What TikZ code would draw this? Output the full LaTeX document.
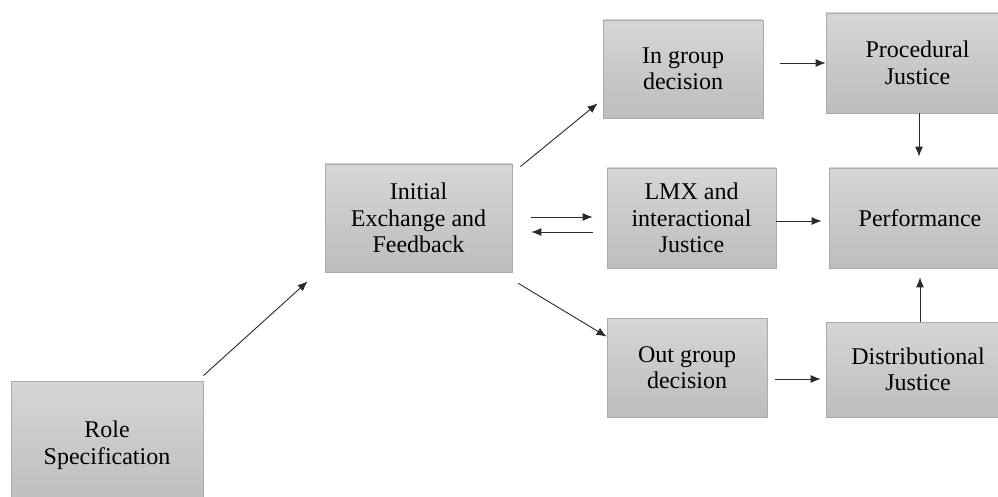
\documentclass[tikz,border=0pt]{standalone}
\usepackage{fontspec}
\setmainfont{Liberation Serif}
\usetikzlibrary{arrows.meta}
\definecolor{boxtop}{HTML}{D6D6D6}
\definecolor{boxbot}{HTML}{BDBDBD}
\definecolor{boxline}{HTML}{ABABAB}
\definecolor{arrowc}{HTML}{2A2A2A}
\tikzset{
  box/.style={rectangle, draw=boxline, line width=0.8pt, top color=boxtop, bottom color=boxbot,
    inner sep=0pt, align=center, font=\fontsize{24}{26.5}\selectfont, text=black},
  conn/.style={draw=arrowc, line width=0.9pt, -{Latex[length=10pt,width=8pt]}}
}
\begin{document}
\begin{tikzpicture}[x=1pt,y=-1pt]
\useasboundingbox (0,0) rectangle (998,497);
\clip (0,0) rectangle (998,497);
\fill[white] (0,0) rectangle (998,497);
\node[box, minimum width=192pt, minimum height=128pt] (role) at (107,445) {Role\\Specification};
\node[box, minimum width=187pt, minimum height=108pt] (init) at (418.5,218) {Initial\\Exchange and\\Feedback};
\node[box, minimum width=160pt, minimum height=98pt] (ingrp) at (683,69) {In group\\decision};
\node[box, minimum width=169pt, minimum height=100pt] (lmx) at (691.5,218) {LMX and\\interactional\\Justice};
\node[box, minimum width=160pt, minimum height=99pt] (outgrp) at (687,367.5) {Out group\\decision};
\node[box, minimum width=183pt, minimum height=100pt] (proc) at (917.5,63) {Procedural\\Justice};
\node[box, minimum width=182pt, minimum height=100pt] (perf) at (920,218) {Performance};
\node[box, minimum width=184pt, minimum height=95pt] (dist) at (918,369.5) {Distributional\\Justice};

\draw[conn] ([yshift=5pt]role.north east) -- ([xshift=-17pt,yshift=-9pt]init.south west);
\draw[conn] ([xshift=8pt,yshift=-3pt]init.north east) -- ([xshift=-5pt,yshift=15pt]ingrp.south west);
\draw[conn] ([xshift=19pt,yshift=1pt]init.east) -- ([xshift=-14pt,yshift=1pt]lmx.west);
\draw[conn] ([xshift=-14pt,yshift=-14pt]lmx.west) -- ([xshift=19pt,yshift=-14pt]init.east);
\draw[conn] ([xshift=6pt,yshift=-11pt]init.south east) -- ([yshift=-19pt]outgrp.north west);
\draw[conn] ([xshift=17pt,yshift=6pt]ingrp.east) -- (proc.west);
\draw[conn] ([yshift=-3pt]lmx.east) -- ([xshift=-7pt,yshift=-3pt]perf.west);
\draw[conn] ([xshift=8pt,yshift=-11.5pt]outgrp.east) -- ([xshift=-5pt,yshift=-9.5pt]dist.west);
\draw[conn] ([xshift=1.5pt]proc.south) -- ([xshift=-1pt,yshift=11pt]perf.north);
\draw[conn] ([xshift=2pt]dist.north) -- ([yshift=-9pt]perf.south);
\end{tikzpicture}
\end{document}
